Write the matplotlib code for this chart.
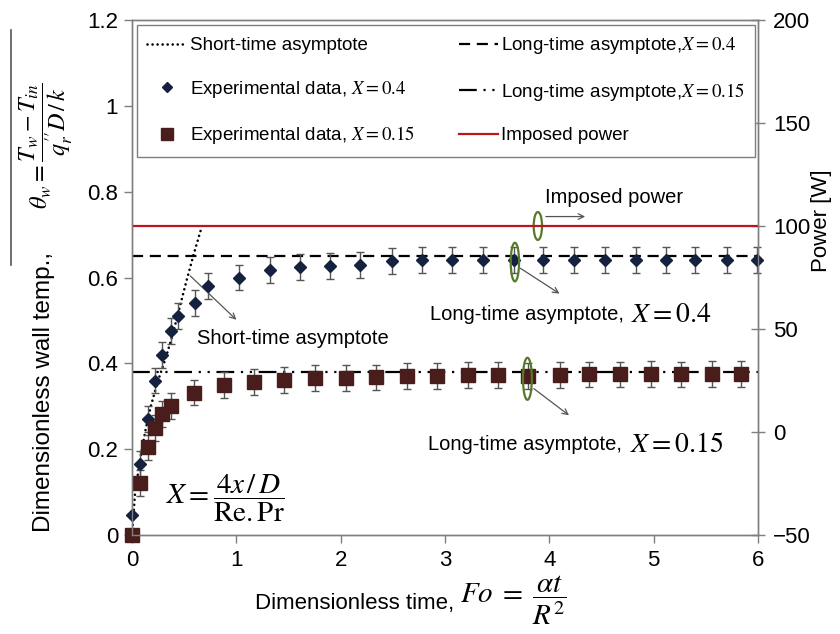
import matplotlib
matplotlib.use("Agg")
import matplotlib.pyplot as plt
from matplotlib.patches import Ellipse
from matplotlib.lines import Line2D

plt.rcParams['font.family'] = ['Liberation Sans', 'DejaVu Sans']
plt.rcParams['mathtext.fontset'] = 'stix'

# Experimental data, X = 0.4
fo_04 = [0, 0.08, 0.15, 0.22, 0.29, 0.37, 0.44, 0.60, 0.73, 1.03, 1.32, 1.61,
         1.90, 2.19, 2.49, 2.78, 3.07, 3.36, 3.66, 3.94, 4.24, 4.53, 4.83,
         5.12, 5.40, 5.70, 5.99]
theta_04 = [0.047, 0.165, 0.27, 0.36, 0.42, 0.475, 0.51, 0.54, 0.58, 0.60,
            0.618, 0.625, 0.627, 0.63, 0.638, 0.641, 0.641, 0.641, 0.641,
            0.641, 0.641, 0.641, 0.641, 0.641, 0.641, 0.641, 0.641]
err_04 = [0] + [0.03] * (len(fo_04) - 1)

# Experimental data, X = 0.15
fo_015 = [0, 0.08, 0.15, 0.22, 0.29, 0.37, 0.59, 0.88, 1.17, 1.46, 1.75,
          2.05, 2.34, 2.64, 2.92, 3.22, 3.51, 3.80, 4.10, 4.38, 4.68, 4.97,
          5.26, 5.56, 5.84]
theta_015 = [0, 0.122, 0.204, 0.249, 0.282, 0.30, 0.332, 0.35, 0.356, 0.361,
             0.365, 0.365, 0.367, 0.37, 0.37, 0.372, 0.372, 0.37, 0.372,
             0.374, 0.374, 0.375, 0.374, 0.375, 0.375]
err_015 = [0] + [0.03] * (len(fo_015) - 1)

# Short-time asymptote
fo_short = [0, 0.03, 0.08, 0.13, 0.18, 0.25, 0.32, 0.39, 0.45, 0.52, 0.59, 0.66]
theta_short = [0, 0.10, 0.18, 0.245, 0.30, 0.36, 0.41, 0.467, 0.524, 0.59,
               0.653, 0.711]

# Long-time asymptotes and imposed power
fo_range = [0, 6]
theta_long_04 = 0.65
theta_long_015 = 0.38
power_w = 100

navy = '#15223f'
maroon = '#4a1d1d'
red = '#c0141c'
green = '#557a2a'
frame = '#7f7f7f'
arrow_c = '#555555'

fig = plt.figure(figsize=(8.4, 6.34), dpi=100)
ax = fig.add_axes([132/840, 1 - 535/634, 626/840, 515/634])
ax2 = ax.twinx()

# asymptotes
l_short, = ax.plot(fo_short, theta_short, color='black', lw=1.9,
                   linestyle=(0, (0.01, 1.9)), dash_capstyle='round')
l_long04, = ax.plot(fo_range, [theta_long_04] * 2, color='black', lw=1.6,
                    linestyle=(0, (5, 3)))
l_long015, = ax.plot(fo_range, [theta_long_015] * 2, color='black', lw=1.6,
                     linestyle=(0, (8, 3, 1, 3, 1, 3)))

# data with error bars
ax.errorbar(fo_04, theta_04, yerr=err_04, fmt='none', ecolor='#555555',
            elinewidth=1, capsize=3, capthick=1, clip_on=False)
ax.errorbar(fo_015, theta_015, yerr=err_015, fmt='none', ecolor='#555555',
            elinewidth=1, capsize=3, capthick=1, clip_on=False)
m04, = ax.plot(fo_04, theta_04, linestyle='none', marker='D', ms=6.5,
               color=navy, clip_on=False, zorder=5)
m015, = ax.plot(fo_015, theta_015, linestyle='none', marker='s', ms=10,
                color=maroon, clip_on=False, zorder=5)

# imposed power on the right axis
l_pow, = ax2.plot(fo_range, [power_w] * 2, color=red, lw=1.6)

ax.set_xlim(0, 6)
ax.set_ylim(0, 1.2)
ax2.set_ylim(-50, 200)
ax.set_xticks(range(0, 7))
ax.set_yticks([0, 0.2, 0.4, 0.6, 0.8, 1.0, 1.2])
ax.set_yticklabels(['0', '0.2', '0.4', '0.6', '0.8', '1', '1.2'])
ax2.set_yticks([-50, 0, 50, 100, 150, 200])

for a in (ax, ax2):
    for s in a.spines.values():
        s.set_color(frame)
        s.set_linewidth(1)
ax.tick_params(axis='both', direction='out', length=6, color=frame,
               labelsize=16, width=1)
ax.tick_params(axis='x', pad=5)
ax.tick_params(axis='y', pad=4)
ax2.tick_params(axis='y', direction='inout', length=10, color=frame,
                labelsize=16, width=1, pad=6)

# axis titles
fig.text(454/840, 1 - 609/634, 'Dimensionless time,', fontsize=16,
         ha='right', va='baseline')
fig.text(460/840, 1 - 600/634, r'$Fo\;=\;\dfrac{\alpha t}{R^2}$', fontsize=21,
         ha='left', va='center')
fig.text(44/840, 1 - 392/634, 'Dimensionless wall temp.,', fontsize=17.5,
         rotation=90, ha='center', va='center')
fig.text(46/840, 1 - 146/634,
         r'$\theta_w=\dfrac{T_w-T_{in}}{q_r^{\prime\prime}D\,/\,k}$',
         fontsize=17.5, rotation=90, ha='center', va='center')
ax2.set_ylabel('Power [W]', fontsize=16)
ax2.yaxis.set_label_coords(1.085, 0.61)

# rule beside the y title
fig.add_artist(Line2D([11/840, 11/840], [1 - 265/634, 1 - 30/634],
                      color='#555555', lw=1.2))

# legend
leg = ax2.legend([l_short, m04, m015, l_long04, l_long015, l_pow],
                 ['Short-time asymptote',
                  r'Experimental data, $X=0.4$',
                  r'Experimental data, $X=0.15$',
                  r'Long-time asymptote,$X=0.4$',
                  r'Long-time asymptote,$X=0.15$',
                  'Imposed power'],
                 ncol=2, loc='upper left', mode='expand',
                 bbox_to_anchor=(0.008, 0.738, 0.987, 0.252),
                 borderaxespad=0, fontsize=13.5, frameon=True, fancybox=False,
                 edgecolor=frame, framealpha=1, labelspacing=1.3,
                 handlelength=2.1, handletextpad=0.15, borderpad=0.55,
                 markerscale=0.85)
leg.get_frame().set_linewidth(1)

# annotations
ax.text(3.96, 0.786, 'Imposed power', fontsize=14.5, ha='left', va='center')
ax.annotate('', xy=(4.37, 0.742), xytext=(3.94, 0.742),
            arrowprops=dict(arrowstyle='->', color=arrow_c, lw=0.9))
ax.add_patch(Ellipse((3.89, 0.72), 0.08, 0.065, fill=False, ec=green, lw=1.6,
                     zorder=6))

ax.text(4.717, 0.513, 'Long-time asymptote,', fontsize=14.5, ha='right',
        va='center')
ax.text(4.784, 0.513, r'$X=0.4$', fontsize=20, ha='left', va='center')
ax.annotate('', xy=(4.12, 0.559), xytext=(3.70, 0.625),
            arrowprops=dict(arrowstyle='->', color=arrow_c, lw=0.9))
ax.add_patch(Ellipse((3.67, 0.636), 0.08, 0.09, fill=False, ec=green, lw=1.6,
                     zorder=6))

ax.text(4.698, 0.21, 'Long-time asymptote,', fontsize=14.5, ha='right',
        va='center')
ax.text(4.775, 0.21, r'$X=0.15$', fontsize=20, ha='left', va='center')
ax.annotate('', xy=(4.21, 0.275), xytext=(3.83, 0.345),
            arrowprops=dict(arrowstyle='->', color=arrow_c, lw=0.9))
ax.add_patch(Ellipse((3.79, 0.364), 0.085, 0.098, fill=False, ec=green, lw=1.6,
                     zorder=6))

ax.text(1.54, 0.459, 'Short-time asymptote', fontsize=14.5, ha='center',
        va='center')
ax.annotate('', xy=(1.02, 0.497), xytext=(0.54, 0.608),
            arrowprops=dict(arrowstyle='->', color=arrow_c, lw=0.9))

ax.text(0.9, 0.086, r'$X=\dfrac{4x\,/\,D}{\mathrm{Re.Pr}}$', fontsize=21,
        ha='center', va='center')

fig.savefig('out.png', dpi=100)
